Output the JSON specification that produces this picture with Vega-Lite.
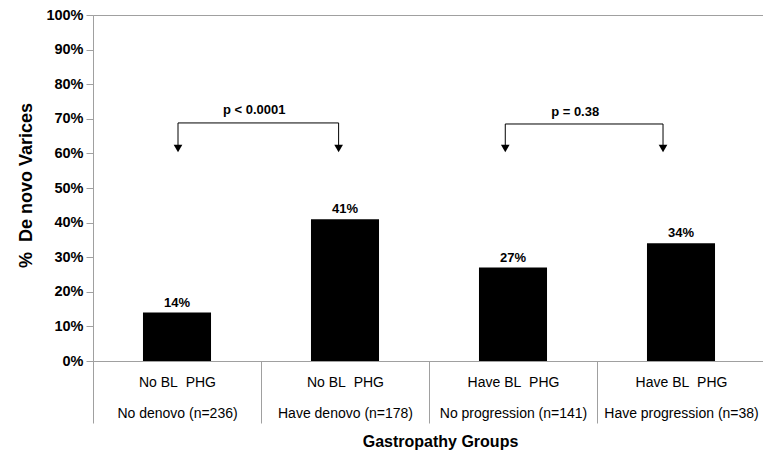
{
  "$schema": "https://vega.github.io/schema/vega-lite/v6.json",
  "width": 672,
  "height": 346,
  "autosize": "none",
  "padding": {"left": 93, "top": 15, "right": 0, "bottom": 95},
  "config": {"view": {"stroke": "#a0a0a0"}, "font": "Liberation Sans"},
  "encoding": {
    "y": {
      "field": "v", "type": "quantitative",
      "scale": {"domain": [0, 1]},
      "axis": {
        "values": [0, 0.1, 0.2, 0.3, 0.4, 0.5, 0.6, 0.7, 0.8, 0.9, 1],
        "format": ".0%",
        "grid": false,
        "tickSize": 7,
        "tickColor": "#a0a0a0",
        "domainColor": "#a0a0a0",
        "labelFontSize": 14.5,
        "labelFontWeight": "bold",
        "labelColor": "#000",
        "labelPadding": 3,
        "labelOverlap": false,
        "labelBound": false,
        "title": "%\u00a0\u00a0De novo Varices",
        "titleFontSize": 18,
        "titleFontWeight": "bold",
        "titleColor": "#000",
        "titleX": -67,
        "titleY": 170,
        "titleAlign": "center",
        "titleBaseline": "middle"
      }
    }
  },
  "layer": [
    {
      "data": {"values": [
        {"cat": "No BL\u00a0\u00a0PHG|No denovo (n=236)", "v": 0.14, "lab": "14%"},
        {"cat": "No BL\u00a0\u00a0PHG|Have denovo (n=178)", "v": 0.41, "lab": "41%"},
        {"cat": "Have BL\u00a0\u00a0PHG|No progression (n=141)", "v": 0.27, "lab": "27%"},
        {"cat": "Have BL\u00a0\u00a0PHG|Have progression (n=38)", "v": 0.34, "lab": "34%"}
      ]},
      "encoding": {
        "x": {
          "field": "cat", "type": "nominal", "sort": null,
          "scale": {"paddingInner": 0, "paddingOuter": 0},
          "axis": {
            "labelExpr": "split(datum.label, '|')",
            "labelLineHeight": 31,
            "labelAngle": 0,
            "labelBaseline": "top",
            "labelFontSize": 14,
            "labelColor": "#000",
            "labelLimit": 0,
            "labelOverlap": false,
            "labelBound": false,
            "labelPadding": -48,
            "tickBand": "extent",
            "tickSize": 62,
            "tickColor": "#a0a0a0",
            "domainColor": "#a0a0a0",
            "title": "Gastropathy Groups",
            "titleFontSize": 16,
            "titleFontWeight": "bold",
            "titleColor": "#000",
            "titleX": 347,
            "titleY": 80,
            "titleBaseline": "middle"
          }
        }
      },
      "layer": [
        {"mark": {"type": "bar", "color": "#000", "width": {"band": 0.405}}},
        {"mark": {"type": "text", "fontSize": 13, "fontWeight": "bold", "baseline": "alphabetic", "dy": -6, "color": "#000"},
         "encoding": {"text": {"field": "lab"}}}
      ]
    },
    {
      "data": {"values": [
        {"x": 0.506, "x2": 1.462, "v": 0.688, "v2": 0.688},
        {"x": 0.506, "x2": 0.506, "v": 0.688, "v2": 0.62},
        {"x": 1.462, "x2": 1.462, "v": 0.688, "v2": 0.62},
        {"x": 2.454, "x2": 3.393, "v": 0.685, "v2": 0.685},
        {"x": 2.454, "x2": 2.454, "v": 0.685, "v2": 0.62},
        {"x": 3.393, "x2": 3.393, "v": 0.685, "v2": 0.62}
      ]},
      "mark": {"type": "rule", "color": "#000", "strokeWidth": 1},
      "encoding": {
        "x": {"field": "x", "type": "quantitative", "scale": {"domain": [0, 4]}, "axis": null},
        "x2": {"field": "x2"},
        "y2": {"field": "v2"}
      }
    },
    {
      "data": {"values": [
        {"x": 0.506, "v": 0.614},
        {"x": 1.462, "v": 0.614},
        {"x": 2.454, "v": 0.614},
        {"x": 3.393, "v": 0.614}
      ]},
      "mark": {"type": "point", "shape": "triangle-down", "filled": true, "color": "#000", "size": 75, "opacity": 1},
      "encoding": {
        "x": {"field": "x", "type": "quantitative", "scale": {"domain": [0, 4]}, "axis": null}
      }
    },
    {
      "data": {"values": [
        {"x": 0.96, "v": 0.726, "t": "p < 0.0001"},
        {"x": 2.87, "v": 0.721, "t": "p = 0.38"}
      ]},
      "mark": {"type": "text", "fontSize": 13, "fontWeight": "bold", "baseline": "middle", "color": "#000"},
      "encoding": {
        "x": {"field": "x", "type": "quantitative", "scale": {"domain": [0, 4]}, "axis": null},
        "text": {"field": "t"}
      }
    }
  ],
  "resolve": {"scale": {"x": "independent"}}
}
